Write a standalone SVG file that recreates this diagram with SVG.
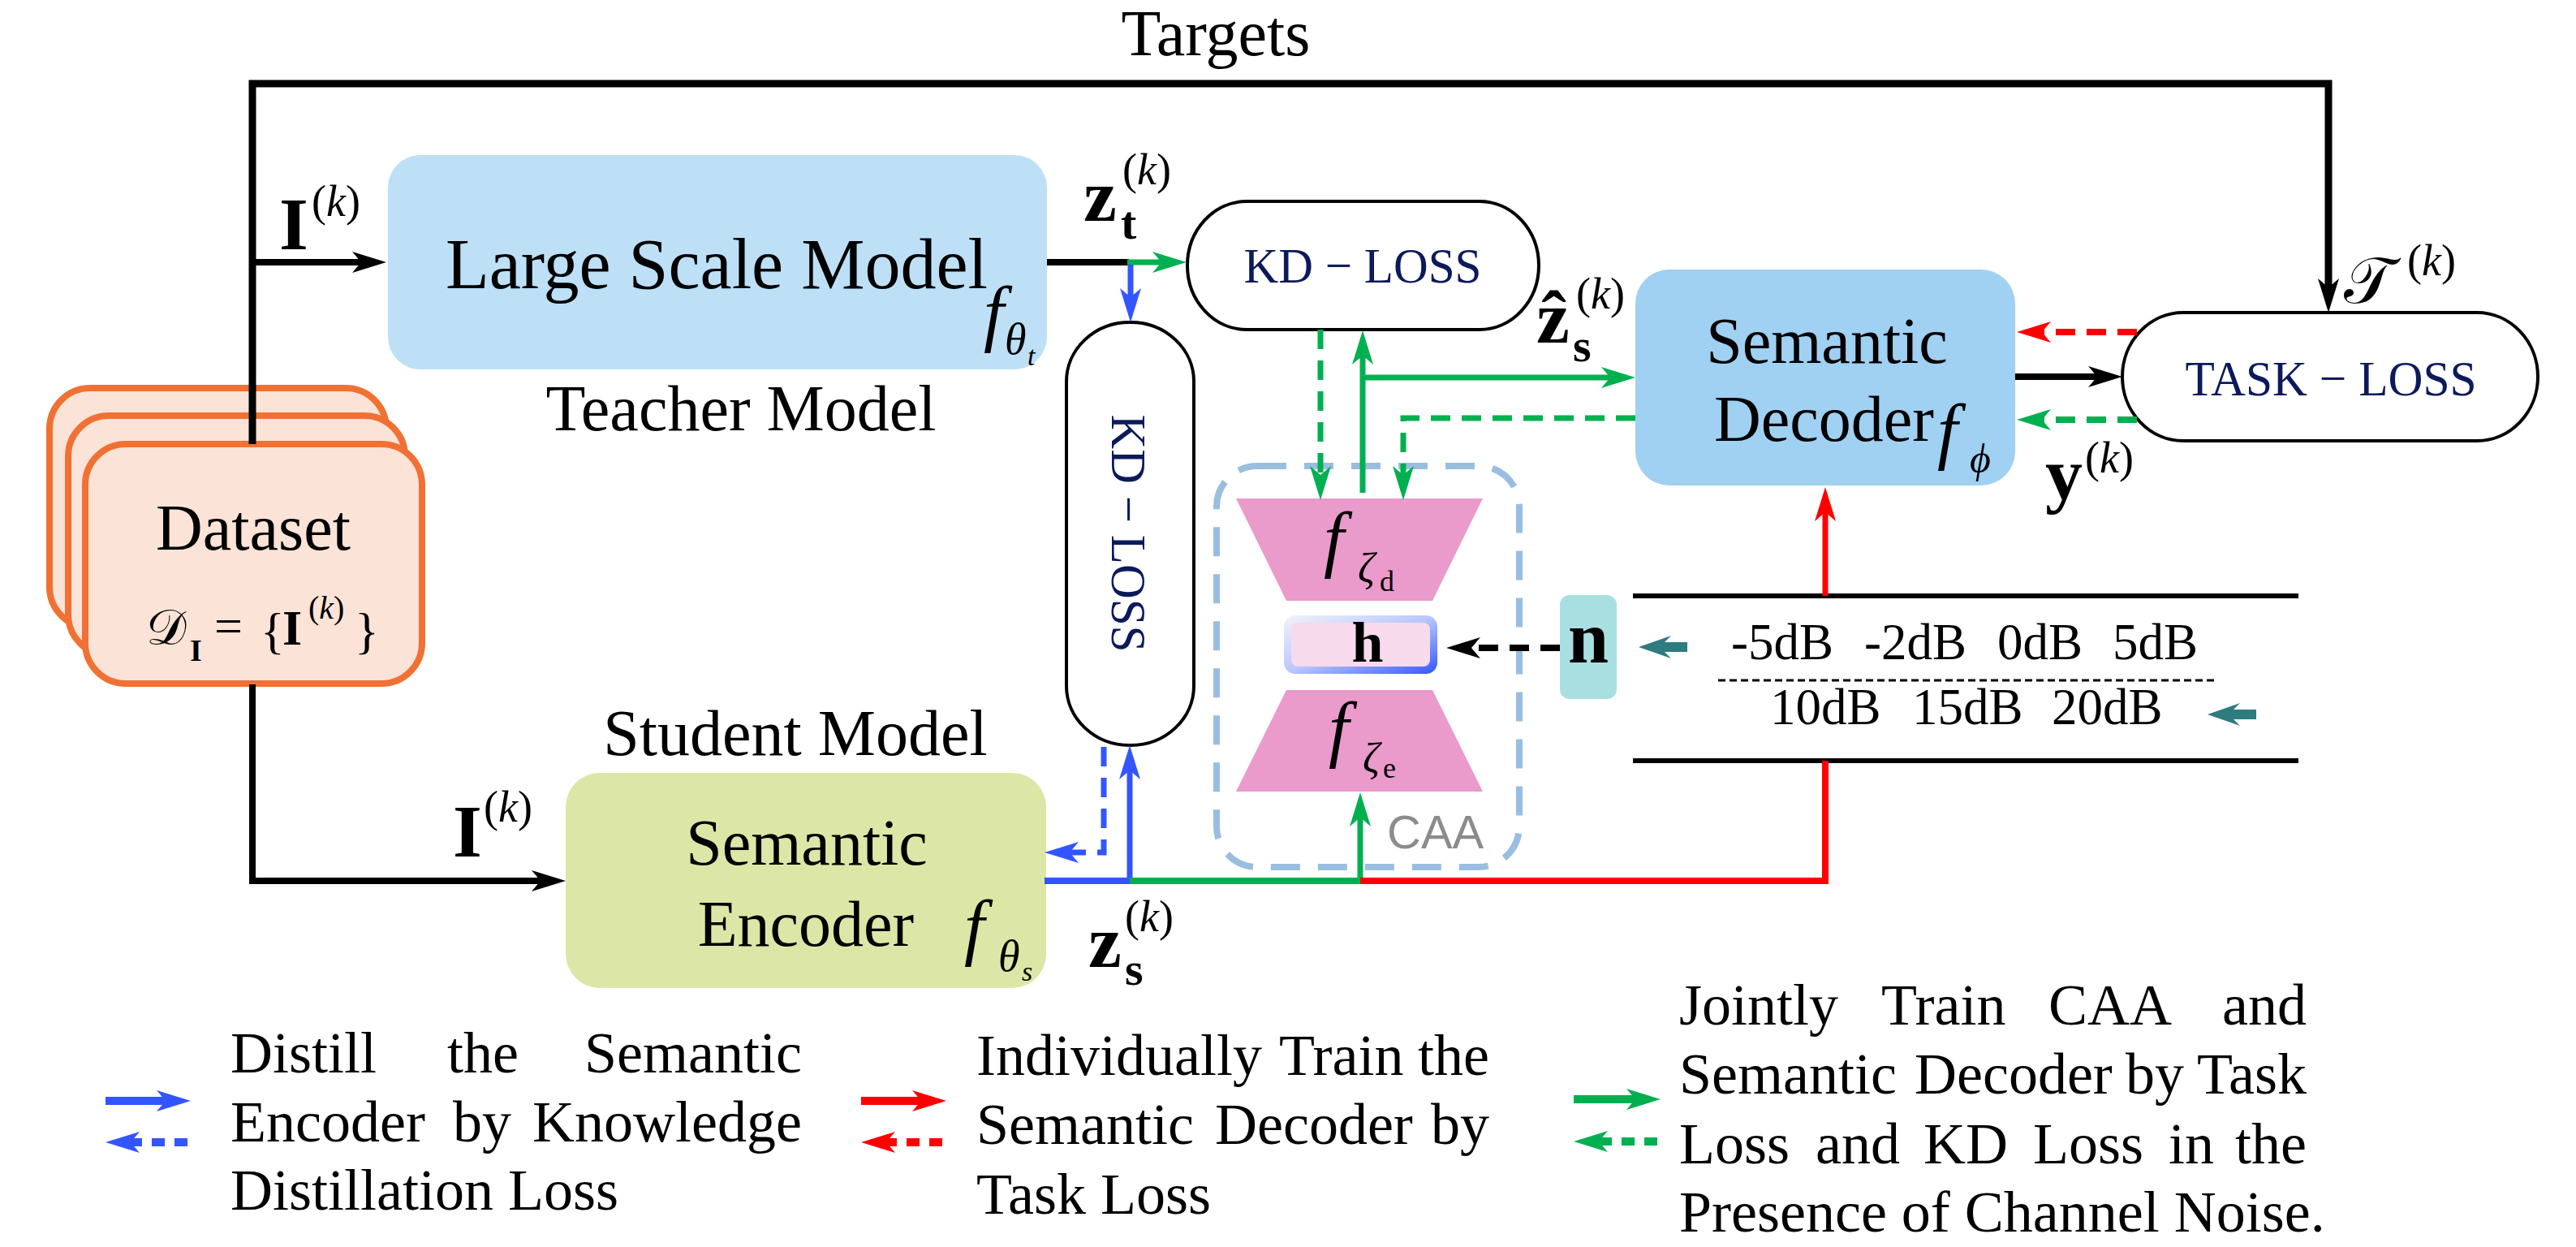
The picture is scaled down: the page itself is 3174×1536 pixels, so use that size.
<svg xmlns="http://www.w3.org/2000/svg" width="3174" height="1536" viewBox="0 0 3174 1536">
<defs>
<style>
text{font-family:"Liberation Serif","Times New Roman",serif;fill:#000}
.lbl{font-size:80px}
.loss{font-size:62px;fill:#0C1A5B}
.mb{font-weight:bold}
.mi{font-style:italic}
.leg{font-size:72px}
.c{fill:none}
.k{stroke:#000}
.g{stroke:#00B050}
.b{stroke:#3355FF}
.r{stroke:#FF0000}
.w7{stroke-width:7}
.w8{stroke-width:8}
.dash{stroke-dasharray:24 14}
.ldash{stroke-dasharray:16 12}
.lossbox{fill:#fff;stroke:#000;stroke-width:4}
.ds{fill:#FCE3D7;stroke:#F07133;stroke-width:8}
.trap{fill:#EA9ACB}
.teal{fill:#2E7B80}
</style>
<marker id="ak" viewBox="-20 -16 50 32" markerWidth="50" markerHeight="32" refX="0" refY="0" orient="auto" markerUnits="userSpaceOnUse"><path d="M28,0 L-14,-13 L-3,0 L-14,13 Z" fill="#000"/></marker>
<marker id="ag" viewBox="-20 -16 50 32" markerWidth="50" markerHeight="32" refX="0" refY="0" orient="auto" markerUnits="userSpaceOnUse"><path d="M28,0 L-14,-13 L-3,0 L-14,13 Z" fill="#00B050"/></marker>
<marker id="ab" viewBox="-20 -16 50 32" markerWidth="50" markerHeight="32" refX="0" refY="0" orient="auto" markerUnits="userSpaceOnUse"><path d="M28,0 L-14,-13 L-3,0 L-14,13 Z" fill="#3355FF"/></marker>
<marker id="ar" viewBox="-20 -16 50 32" markerWidth="50" markerHeight="32" refX="0" refY="0" orient="auto" markerUnits="userSpaceOnUse"><path d="M28,0 L-14,-13 L-3,0 L-14,13 Z" fill="#FF0000"/></marker>
<linearGradient id="hg" x1="0" y1="0" x2="1" y2="1">
<stop offset="0" stop-color="#F2F4F6"/><stop offset="0.5" stop-color="#B9C6FF"/><stop offset="1" stop-color="#3355FF"/>
</linearGradient>
</defs>
<rect x="0" y="0" width="3174" height="1536" fill="#fff"/>

<g id="dataset">
<rect class="ds" x="61" y="478" width="415" height="295" rx="50"/>
<rect class="ds" x="84" y="512" width="415" height="295" rx="50"/>
<rect class="ds" x="105" y="547" width="415" height="295" rx="50"/>
<text class="lbl" x="312" y="677" text-anchor="middle">Dataset</text>
<text x="180" y="794" font-size="62">𝒟</text>
<text class="mb" x="234" y="814" font-size="38">I</text>
<text x="264" y="792" font-size="62">=</text>
<text x="321" y="798" font-size="62">{</text>
<text class="mb" x="348" y="794" font-size="62">I</text>
<text x="380" y="762" font-size="40">(<tspan class="mi">k</tspan>)</text>
<text x="437" y="798" font-size="62">}</text>
</g>

<g id="teacher">
<rect x="478" y="191" width="812" height="264" rx="40" fill="#BDE0F7"/>
<text x="549" y="355" font-size="88">Large Scale Model</text>
<text class="mi" x="1212" y="416" font-size="90">f</text>
<text class="mi" x="1238" y="436" font-size="54">θ</text>
<text class="mi" x="1266" y="450" font-size="34">t</text>
<text class="lbl" x="913" y="530" text-anchor="middle">Teacher Model</text>
</g>

<g id="student">
<text class="lbl" x="980" y="930" text-anchor="middle">Student Model</text>
<rect x="697" y="952" width="592" height="265" rx="42" fill="#DCE7A7"/>
<text class="lbl" x="994" y="1065" text-anchor="middle">Semantic</text>
<text class="lbl" x="993" y="1165" text-anchor="middle">Encoder</text>
<text class="mi" x="1188" y="1172" font-size="90">f</text>
<text class="mi" x="1230" y="1196" font-size="54">θ</text>
<text class="mi" x="1259" y="1208" font-size="34">s</text>
</g>

<g id="kd-loss-top">
<rect class="lossbox" x="1463" y="248" width="433" height="158" rx="73" ry="79"/>
<text class="loss" x="1679" y="348" text-anchor="middle" textLength="293" lengthAdjust="spacingAndGlyphs">KD − LOSS</text>
</g>

<g id="kd-loss-vertical">
<rect class="lossbox" x="1314" y="397" width="157" height="521" rx="78" ry="73"/>
<text class="loss" transform="translate(1370,657) rotate(90)" text-anchor="middle" textLength="293" lengthAdjust="spacingAndGlyphs">KD − LOSS</text>
</g>

<g id="caa">
<rect x="1499" y="574" width="373" height="494" rx="50" fill="none" stroke="#99BEE0" stroke-width="8" stroke-dasharray="36 22"/>
<polygon class="trap" points="1523,614 1827,614 1765,740 1585,740"/>
<polygon class="trap" points="1585,850 1765,850 1827,975 1523,975"/>
<text class="mi" x="1631" y="694" font-size="90">f</text>
<text class="mi" x="1673" y="717" font-size="52">ζ</text>
<text x="1700" y="728" font-size="36">d</text>
<text class="mi" x="1637" y="928" font-size="90">f</text>
<text class="mi" x="1679" y="951" font-size="52">ζ</text>
<text x="1704" y="958" font-size="36">e</text>
<text x="1709" y="1045" font-size="58" style="font-family:'Liberation Sans',Arial,sans-serif;fill:#8C8C8C">CAA</text>
</g>

<g id="h">
<rect x="1582" y="758" width="189" height="72" rx="14" fill="url(#hg)"/>
<rect x="1591" y="767" width="171" height="54" rx="8" fill="#F7DAEC"/>
<text class="mb" x="1685" y="815" font-size="70" text-anchor="middle">h</text>
</g>

<g id="n">
<rect x="1922" y="733" width="70" height="128" rx="12" fill="#A8E0E2"/>
<text class="mb" x="1957" y="816" font-size="90" text-anchor="middle">n</text>
</g>

<g id="snr">
<line x1="2012" y1="734" x2="2832" y2="734" stroke="#000" stroke-width="6"/>
<line x1="2012" y1="937" x2="2832" y2="937" stroke="#000" stroke-width="6"/>
<line x1="2117" y1="838" x2="2732" y2="838" stroke="#000" stroke-width="3" stroke-dasharray="9 5"/>
<text font-size="63" y="812"><tspan x="2133">-5dB</tspan><tspan x="2297">-2dB</tspan><tspan x="2461">0dB</tspan><tspan x="2603">5dB</tspan></text>
<text font-size="63" y="892"><tspan x="2181">10dB</tspan><tspan x="2356">15dB</tspan><tspan x="2528">20dB</tspan></text>
<polygon class="teal" points="2019,797 2059,783 2051,791 2079,791 2079,803 2051,803 2059,811"/>
<polygon class="teal" points="2720,880 2760,866 2752,874 2780,874 2780,886 2752,886 2760,894"/>
</g>

<g id="decoder">
<rect x="2015" y="332" width="468" height="266" rx="42" fill="#A0D0F2"/>
<text class="lbl" x="2251" y="447" text-anchor="middle">Semantic</text>
<text class="lbl" x="2112" y="543">Decoder</text>
<text class="mi" x="2387" y="561" font-size="90">f</text>
<text class="mi" x="2427" y="582" font-size="50">ϕ</text>
</g>

<g id="task-loss">
<rect class="lossbox" x="2615" y="385" width="512" height="158" rx="75" ry="79"/>
<text class="loss" x="2872" y="487" text-anchor="middle" textLength="359" lengthAdjust="spacingAndGlyphs">TASK − LOSS</text>
</g>

<g id="labels">
<text class="lbl" x="1498" y="68" text-anchor="middle">Targets</text>
<text class="mb" x="344" y="307" font-size="92">I</text>
<text x="384" y="266" font-size="54">(<tspan class="mi">k</tspan>)</text>
<text class="mb" x="558" y="1055" font-size="92">I</text>
<text x="596" y="1012" font-size="54">(<tspan class="mi">k</tspan>)</text>
<text class="mb" x="1335" y="272" font-size="92">z</text>
<text class="mb" x="1381" y="294" font-size="58">t</text>
<text x="1383" y="227" font-size="54">(<tspan class="mi">k</tspan>)</text>
<text class="mb" x="1893" y="422" font-size="92">ẑ</text>
<text class="mb" x="1938" y="445" font-size="58">s</text>
<text x="1942" y="380" font-size="54">(<tspan class="mi">k</tspan>)</text>
<text class="mb" x="2520" y="615" font-size="92">y</text>
<text x="2569" y="582" font-size="54">(<tspan class="mi">k</tspan>)</text>
<text x="2888" y="373" font-size="80">𝒯</text>
<text x="2966" y="339" font-size="54">(<tspan class="mi">k</tspan>)</text>
<text class="mb" x="1341" y="1191" font-size="92">z</text>
<text class="mb" x="1386" y="1213" font-size="58">s</text>
<text x="1386" y="1147" font-size="54">(<tspan class="mi">k</tspan>)</text>
</g>

<g id="connectors">
<path class="c k" stroke-width="9" d="M311,547 V103 H2869 V357" marker-end="url(#ak)"/>
<path class="c k w8" d="M311,323 H448" marker-end="url(#ak)"/>
<path class="c k w8" d="M311,843 V1085 H669" marker-end="url(#ak)"/>
<path class="c k w8" d="M1290,323 H1391"/>
<path class="c g w7" d="M1389,323 H1434" marker-end="url(#ag)"/>
<path class="c b w7" d="M1393,326 V369" marker-end="url(#ab)"/>
<path class="c g w7 dash" d="M1627,406 V588" marker-end="url(#ag)"/>
<path class="c g w7" d="M1679,607 V435" marker-end="url(#ag)"/>
<path class="c g w7" d="M1679,465 H1987" marker-end="url(#ag)"/>
<path class="c g w7 dash" d="M2015,515 H1729 V588" marker-end="url(#ag)"/>
<path class="c b w8" d="M1287,1085 H1392"/>
<path class="c b w7" d="M1392,1085 V946" marker-end="url(#ab)"/>
<path class="c g w8" d="M1392,1085 H1676"/>
<path class="c g w7" d="M1676,1085 V1004" marker-end="url(#ag)"/>
<path class="c r w8" d="M1676,1085 H2249 V937"/>
<path class="c b w7 dash" d="M1360,920 V1050 H1315" marker-end="url(#ab)"/>
<path class="c r w7" d="M2249,734 V628" marker-end="url(#ar)"/>
<path class="c k w8 dash" d="M1922,798 H1810" marker-end="url(#ak)"/>
<path class="c r w8 dash" d="M2633,409 H2513" marker-end="url(#ar)"/>
<path class="c k w8" d="M2483,464 H2587" marker-end="url(#ak)"/>
<path class="c g w8 dash" d="M2633,517 H2513" marker-end="url(#ag)"/>
</g>

<g id="legend">
<path class="c b" stroke-width="10" d="M130,1356 H207" marker-end="url(#ab)"/>
<path class="c b ldash" stroke-width="10" d="M231,1407 H158" marker-end="url(#ab)"/>
<text class="leg" y="1321"><tspan x="284">Distill</tspan><tspan x="551">the</tspan><tspan x="988" text-anchor="end">Semantic</tspan></text>
<text class="leg" y="1406"><tspan x="284">Encoder</tspan><tspan x="558">by</tspan><tspan x="988" text-anchor="end">Knowledge</tspan></text>
<text class="leg" x="284" y="1490">Distillation Loss</text>
<path class="c r" stroke-width="10" d="M1061,1356 H1138" marker-end="url(#ar)"/>
<path class="c r ldash" stroke-width="10" d="M1161,1407 H1089" marker-end="url(#ar)"/>
<text class="leg" y="1324"><tspan x="1203">Individually</tspan><tspan x="1576">Train</tspan><tspan x="1835" text-anchor="end">the</tspan></text>
<text class="leg" y="1409"><tspan x="1203">Semantic</tspan><tspan x="1497">Decoder</tspan><tspan x="1835" text-anchor="end">by</tspan></text>
<text class="leg" x="1203" y="1495">Task Loss</text>
<path class="c g" stroke-width="10" d="M1939,1354 H2018" marker-end="url(#ag)"/>
<path class="c g ldash" stroke-width="10" d="M2042,1406 H1967" marker-end="url(#ag)"/>
<text class="leg" y="1262"><tspan x="2069">Jointly</tspan><tspan x="2318">Train</tspan><tspan x="2524">CAA</tspan><tspan x="2842" text-anchor="end">and</tspan></text>
<text class="leg" y="1347"><tspan x="2069">Semantic</tspan><tspan x="2359">Decoder</tspan><tspan x="2619">by</tspan><tspan x="2842" text-anchor="end">Task</tspan></text>
<text class="leg" y="1433"><tspan x="2069">Loss</tspan><tspan x="2237">and</tspan><tspan x="2370">KD</tspan><tspan x="2505">Loss</tspan><tspan x="2672">in</tspan><tspan x="2842" text-anchor="end">the</tspan></text>
<text class="leg" x="2069" y="1517">Presence of Channel Noise.</text>
</g>
</svg>
